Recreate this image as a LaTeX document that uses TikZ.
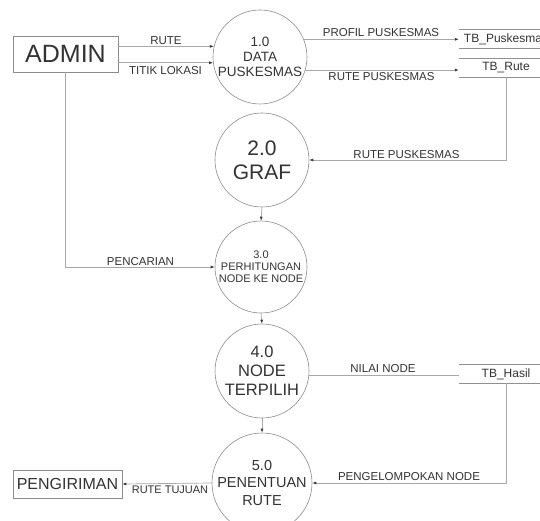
\documentclass[tikz,border=0pt]{standalone}
\usepackage{fontspec}
\setmainfont{Liberation Sans}
\usetikzlibrary{arrows.meta}
\definecolor{txt}{HTML}{333333}
\definecolor{ln}{HTML}{A8A8A8}
\definecolor{edge}{HTML}{8C8C8C}
\definecolor{tip}{HTML}{3A3A3A}
\definecolor{stl}{HTML}{909090}
\begin{document}
\begin{tikzpicture}[x=1pt,y=-1pt,
 proc/.style={circle,draw=edge,line width=0.6pt,minimum size=94pt,inner sep=0pt,align=center,text=txt},
 ent/.style={rectangle,draw=edge,line width=0.6pt,inner sep=0pt,text=txt},
 store/.style={rectangle,minimum width=94pt,minimum height=18pt,inner sep=0pt,text=txt,font=\fontsize{12}{14}\selectfont},
 storeline/.style={draw=stl,line width=0.7pt},
 flow/.style={draw=ln,line width=0.7pt,-{Latex[length=4pt,width=3pt,color=tip]}},
 plainflow/.style={draw=ln,line width=0.7pt},
 lbl/.style={text=txt,font=\fontsize{11.5}{13}\selectfont,inner sep=0pt}]
\fill[white] (0,0) rectangle (540,521);
\useasboundingbox (0,0) rectangle (540,521);

% entities
\node[ent,minimum width=105pt,minimum height=36pt,font=\fontsize{25}{28}\selectfont] (admin) at (65.5,54) {ADMIN};
\node[ent,minimum width=109pt,minimum height=28pt,font=\fontsize{16}{18}\selectfont] (peng) at (67.5,484) {PENGIRIMAN};

% processes
\node[proc,font=\fontsize{13.5}{15}\selectfont] (c1) at (260,57) {1.0\\DATA\\PUSKESMAS};
\node[proc,font=\fontsize{21}{24}\selectfont] (c2) at (262,160) {2.0\\GRAF};
\node[proc,minimum size=92pt,font=\fontsize{11}{11.8}\selectfont] (c3) at (261,267) {3.0\\PERHITUNGAN\\NODE KE NODE};
\node[proc,font=\fontsize{16.5}{19}\selectfont] (c4) at (262,371) {4.0\\NODE\\TERPILIH};
\node[proc,font=\fontsize{14.5}{17.5}\selectfont] (c5) at (262,483) {5.0\\PENENTUAN\\RUTE};

% data stores
\node[store] (tbp) at (506,39) {TB\_Puskesmas};
\node[store] (tbr) at (506,68) {TB\_Rute};
\node[store] (tbh) at (506,374) {TB\_Hasil};
\foreach \s in {tbp,tbr,tbh}{
  \draw[storeline] (\s.north west) -- (\s.north east);
  \draw[storeline] (\s.south west) -- (\s.south east);
}

% flows
\draw[flow] (admin.east |- c1.167.7) -- (c1.167.7);
\draw[flow] (admin.east |- c1.187.3) -- (c1.187.3);
\draw[flow] (c1.22.5) -- (tbp.west |- c1.22.5);
\draw[flow] (c1.-16.1) -- (tbr.west |- c1.-16.1);
\draw[flow] (tbr.south) |- (c2.east);
\draw[flow] (c2.south) -- (c3.north);
\draw[flow] (admin.south) |- (c3.west);
\draw[flow] (c3.south) -- (c4.north);
\draw[plainflow] (c4.-5) -- (tbh.west |- c4.-5);
\draw[flow] (c4.south) -- (c5.north);
\draw[flow] (tbh.south) |- (c5.east);
\draw[flow] (c5.west) -- (peng.east);

% labels
\node[lbl] (l1) at (166,41) {RUTE};
\node[lbl] (l2) at (165.5,71) {TITIK LOKASI};
\node[lbl] (l3) at (381,33) {PROFIL PUSKESMAS};
\node[lbl] (l4) at (381.5,77) {RUTE PUSKESMAS};
\node[lbl] (l5) at (406.5,155) {RUTE PUSKESMAS};
\node[lbl] (l6) at (140.5,262) {PENCARIAN};
\node[lbl] (l7) at (383,369) {NILAI NODE};
\node[lbl] (l8) at (409,477) {PENGELOMPOKAN NODE};
\node[lbl,font=\fontsize{11}{13}\selectfont] (l9) at (170,490) {RUTE TUJUAN};
\end{tikzpicture}
\end{document}
